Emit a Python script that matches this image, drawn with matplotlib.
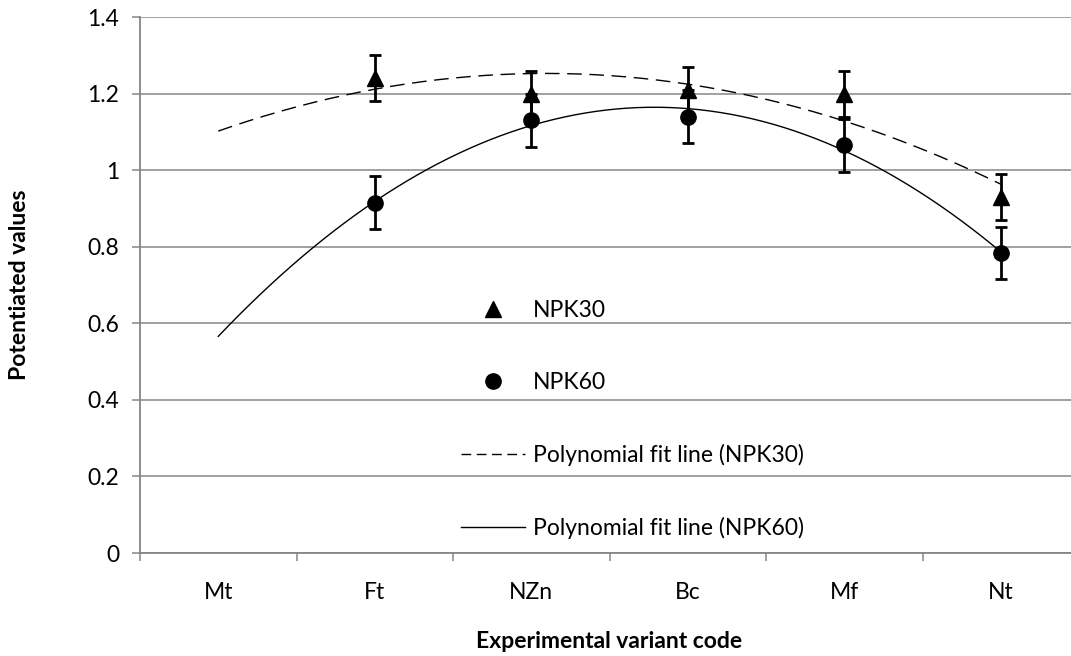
import numpy as np
import matplotlib
matplotlib.use("Agg")
import matplotlib.pyplot as plt
from matplotlib.lines import Line2D

plt.rcParams["font.family"] = ["Lato", "DejaVu Sans"]

categories = ["Mt", "Ft", "NZn", "Bc", "Mf", "Nt"]

# measured values (Mt has no data)
npk30_cats = ["Ft", "NZn", "Bc", "Mf", "Nt"]
npk30 = [1.24, 1.20, 1.21, 1.20, 0.93]
npk30_err = [0.06, 0.06, 0.06, 0.06, 0.06]

npk60_cats = ["Ft", "NZn", "Bc", "Mf", "Nt"]
npk60 = [0.915, 1.13, 1.14, 1.065, 0.783]
npk60_err = [0.069, 0.07, 0.07, 0.069, 0.068]

GRID = "#868686"
FS = 16.5

x30 = np.array([categories.index(c) + 1 for c in npk30_cats])
x60 = np.array([categories.index(c) + 1 for c in npk60_cats])

fig = plt.figure(figsize=(10.71, 6.56), dpi=100)
ax = fig.add_axes([140/1071, 103/656, 939/1071, 536/656])

# polynomial (2nd order) trendlines over the whole category range
xs = np.linspace(1, 6, 300)
p30 = np.polyfit(x30, npk30, 2)
p60 = np.polyfit(x60, npk60, 2)
ax.plot(xs, np.polyval(p30, xs), color="black", lw=1.0, ls=(0, (10.5, 5.5)), zorder=2)
ax.plot(xs, np.polyval(p60, xs), color="black", lw=1.0, zorder=2)

ax.errorbar(x30, npk30, yerr=npk30_err, fmt="^", color="black", ms=11,
            elinewidth=2.0, capsize=4.5, capthick=2.0, zorder=3)
ax.errorbar(x60, npk60, yerr=npk60_err, fmt="o", color="black", ms=11,
            elinewidth=2.0, capsize=4.5, capthick=2.0, zorder=3)

ax.set_xlim(0.5, 6.5)
ax.set_ylim(0, 1.4)
ax.set_yticks(np.arange(0, 1.41, 0.2))
ax.set_yticklabels(["0", "0.2", "0.4", "0.6", "0.8", "1", "1.2", "1.4"])
ax.set_xticks(range(1, 7))
ax.set_xticklabels(categories)
ax.set_xticks(np.arange(0.5, 6.6, 1), minor=True)

ax.grid(axis="y", color=GRID, lw=1.1)
ax.set_axisbelow(True)
for s in ["top", "right"]:
    ax.spines[s].set_visible(False)
for s in ["left", "bottom"]:
    ax.spines[s].set_color(GRID)
    ax.spines[s].set_linewidth(1.3)

ax.tick_params(axis="y", length=6, color=GRID, width=1.1, labelsize=FS, pad=9)
ax.tick_params(axis="x", which="major", length=0, labelsize=FS, pad=21)
ax.tick_params(axis="x", which="minor", length=6, color=GRID, width=1.1)

ax.set_xlabel("Experimental variant code", fontsize=FS, fontweight="bold", labelpad=20)
ax.set_ylabel("Potentiated values", fontsize=FS, fontweight="bold", labelpad=41)

handles = [
    Line2D([], [], marker="^", color="black", ls="none", ms=11),
    Line2D([], [], marker="o", color="black", ls="none", ms=11),
    Line2D([], [], color="black", lw=1.0, ls=(0, (7, 4))),
    Line2D([], [], color="black", lw=1.0),
]
labels = ["NPK30", "NPK60", "Polynomial fit line (NPK30)", "Polynomial fit line (NPK60)"]
fig.legend(handles, labels, loc="upper left", bbox_to_anchor=(461/1071, 1 - 300/656),
           frameon=False, fontsize=FS, handlelength=2.8, handletextpad=0.35,
           labelspacing=2.22, borderpad=0, borderaxespad=0)

fig.savefig("out.png", dpi=100)
